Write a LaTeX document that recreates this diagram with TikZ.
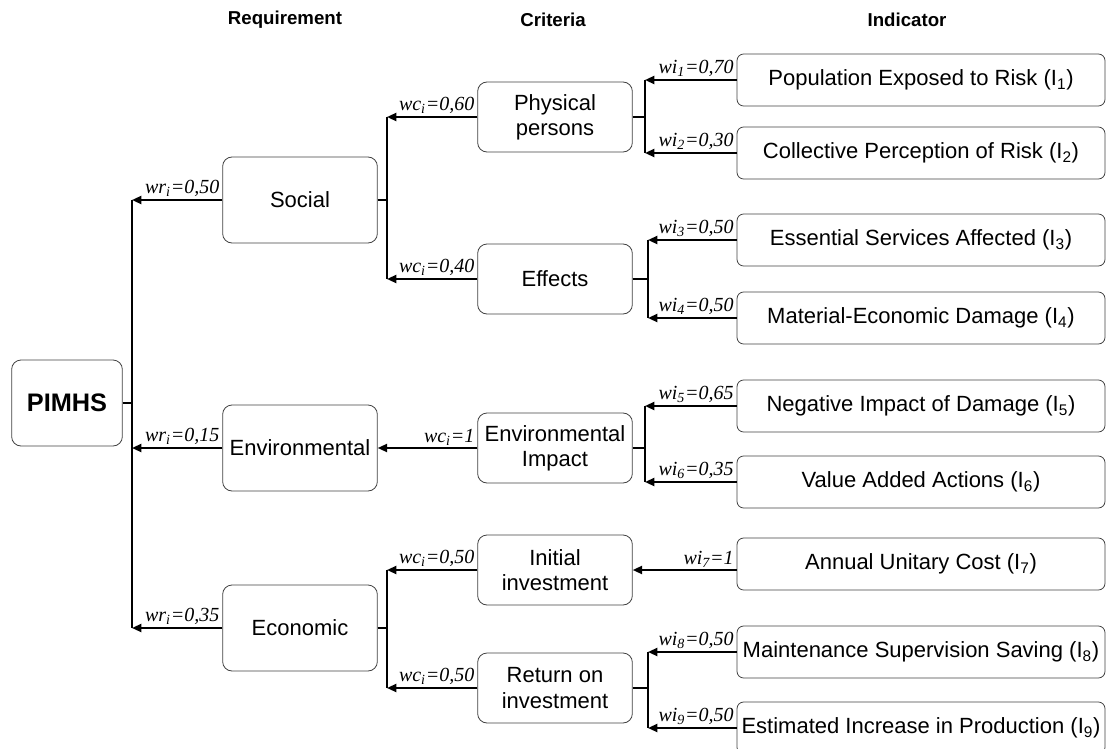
\documentclass[tikz,border=0pt]{standalone}
\usepackage{fontspec}
\setmainfont{Liberation Sans}
\newfontfamily\wfont{Liberation Serif}
\usetikzlibrary{arrows.meta}

\begin{document}
\begin{tikzpicture}[x=0.75pt,y=-0.75pt,
  every node/.style={font=\fontsize{16.5}{19}\selectfont},
  req/.style={draw=black!75,line width=0.6pt,rounded corners=7pt,minimum width=116pt,minimum height=64.5pt,align=center,inner sep=2pt},
  crit/.style={req,minimum height=52.5pt},
  ind/.style={req,minimum width=276pt,minimum height=39pt,rounded corners=5pt},
  head/.style={font=\fontsize{14}{16}\selectfont\bfseries},
  wt/.style={font=\fontsize{15}{17}\selectfont\wfont\itshape,inner sep=1.5pt,anchor=south east},
  link/.style={line width=1.5pt},
  arr/.style={link,-{Triangle[length=7pt,width=6pt]}}]
  \useasboundingbox (0,0) rectangle (1107,749);

  \node[head] (hreq) at (285,20) {Requirement};
  \node[head] (hcrit) at (553,20) {Criteria};
  \node[head] (hind) at (907,20) {Indicator};

  \node[req,minimum width=83pt,font=\fontsize{19}{22}\selectfont\bfseries] (pimhs) at (67,403) {PIMHS};
  \node[req] (soc) at (300,200) {Social};
  \node[req] (env) at (300,448) {Environmental};
  \node[req] (eco) at (300,628) {Economic};

  \node[crit] (phys) at (555,117) {Physical\\persons};
  \node[crit] (eff) at (555,279) {Effects};
  \node[crit] (envimp) at (555,448) {Environmental\\Impact};
  \node[crit] (init) at (555,570) {Initial\\investment};
  \node[crit] (ret) at (555,688) {Return on\\investment};

  \node[ind] (i1) at (921,80) {Population Exposed to Risk (I\textsubscript{1})};
  \node[ind] (i2) at (921,153) {Collective Perception of Risk (I\textsubscript{2})};
  \node[ind] (i3) at (921,240) {Essential Services Affected (I\textsubscript{3})};
  \node[ind] (i4) at (921,318) {Material-Economic Damage (I\textsubscript{4})};
  \node[ind] (i5) at (921,406) {Negative Impact of Damage (I\textsubscript{5})};
  \node[ind] (i6) at (921,482) {Value Added Actions (I\textsubscript{6})};
  \node[ind] (i7) at (921,564) {Annual Unitary Cost (I\textsubscript{7})};
  \node[ind] (i8) at (921,652) {Maintenance Supervision Saving (I\textsubscript{8})};
  \node[ind] (i9) at (921,728) {Estimated Increase in Production (I\textsubscript{9})};

  \coordinate (t0) at (132,403);
  \coordinate (t1) at (387,200);
  \coordinate (t2) at (645,117);
  \coordinate (t3) at (648,279);
  \coordinate (t4) at (645,448);
  \coordinate (t5) at (387,628);
  \coordinate (t6) at (648,688);

  \draw[link] (pimhs) -- (t0);
  \draw[link] (t0 |- soc) -- (t0 |- eco);
  \draw[arr] (soc) -- node[wt,pos=0] {wr\textsubscript{i}=0,50} (soc -| t0);
  \draw[arr] (env) -- node[wt,pos=0] {wr\textsubscript{i}=0,15} (env -| t0);
  \draw[arr] (eco) -- node[wt,pos=0] {wr\textsubscript{i}=0,35} (eco -| t0);

  \draw[link] (soc) -- (t1);
  \draw[link] (t1 |- phys) -- (t1 |- eff);
  \draw[arr] (phys) -- node[wt,pos=0] {wc\textsubscript{i}=0,60} (phys -| t1);
  \draw[arr] (eff) -- node[wt,pos=0] {wc\textsubscript{i}=0,40} (eff -| t1);

  \draw[arr] (envimp) -- node[wt,pos=0] {wc\textsubscript{i}=1} (env);

  \draw[link] (eco) -- (t5);
  \draw[link] (t5 |- init) -- (t5 |- ret);
  \draw[arr] (init) -- node[wt,pos=0] {wc\textsubscript{i}=0,50} (init -| t5);
  \draw[arr] (ret) -- node[wt,pos=0] {wc\textsubscript{i}=0,50} (ret -| t5);

  \draw[link] (phys) -- (t2);
  \draw[link] (t2 |- i1) -- (t2 |- i2);
  \draw[arr] (i1) -- node[wt,pos=0] {wi\textsubscript{1}=0,70} (i1 -| t2);
  \draw[arr] (i2) -- node[wt,pos=0] {wi\textsubscript{2}=0,30} (i2 -| t2);

  \draw[link] (eff) -- (t3);
  \draw[link] (t3 |- i3) -- (t3 |- i4);
  \draw[arr] (i3) -- node[wt,pos=0] {wi\textsubscript{3}=0,50} (i3 -| t3);
  \draw[arr] (i4) -- node[wt,pos=0] {wi\textsubscript{4}=0,50} (i4 -| t3);

  \draw[link] (envimp) -- (t4);
  \draw[link] (t4 |- i5) -- (t4 |- i6);
  \draw[arr] (i5) -- node[wt,pos=0] {wi\textsubscript{5}=0,65} (i5 -| t4);
  \draw[arr] (i6) -- node[wt,pos=0] {wi\textsubscript{6}=0,35} (i6 -| t4);

  \draw[arr] (i7.west |- init) -- node[wt,pos=0] {wi\textsubscript{7}=1} (init);

  \draw[link] (ret) -- (t6);
  \draw[link] (t6 |- i8) -- (t6 |- i9);
  \draw[arr] (i8) -- node[wt,pos=0] {wi\textsubscript{8}=0,50} (i8 -| t6);
  \draw[arr] (i9) -- node[wt,pos=0] {wi\textsubscript{9}=0,50} (i9 -| t6);
\end{tikzpicture}
\end{document}
